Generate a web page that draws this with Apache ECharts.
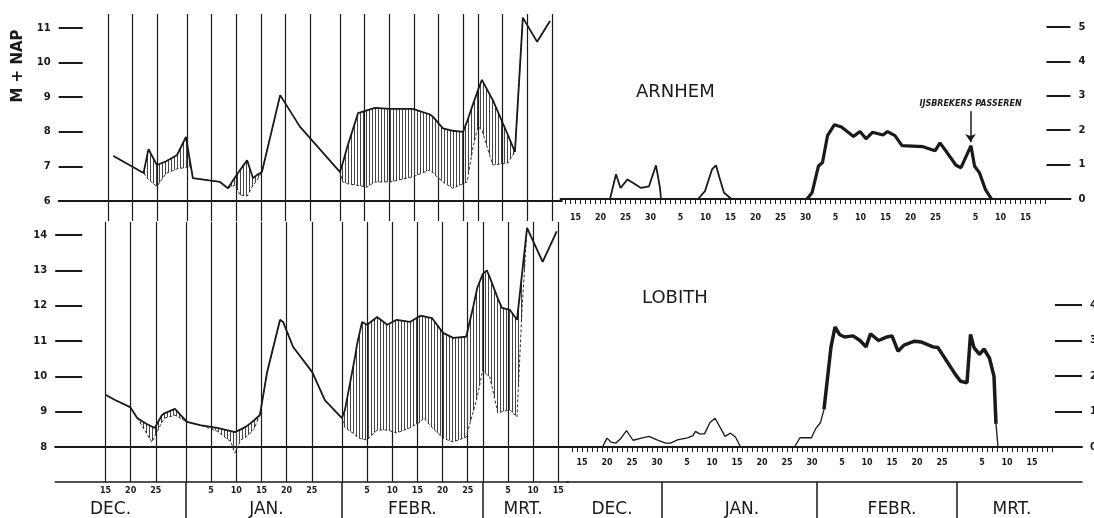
<!DOCTYPE html>
<html><head><meta charset="utf-8">
<script src="https://cdn.jsdelivr.net/npm/echarts@6/dist/echarts.min.js"></script>
<style>html,body{margin:0;padding:0;background:#fff}#c{width:1094px;height:518px}</style>
</head><body><div id="c"></div>
<script>
// ---------- time axis: day index t, 0 = 1 December ----------
const monthNames = ['DEC.', 'JAN.', 'FEBR.', 'MRT.'];
const monthLengths = [31, 31, 28, 31];
const monthLastDays = [30, 61, 89];
const leftLabelDays = [14, 19, 24, 35, 40, 45, 50, 55, 66, 71, 76, 81, 86, 94, 99, 104];
const rightLabelDays = [14, 19, 24, 29, 35, 40, 45, 50, 55, 60, 66, 71, 76, 81, 86, 94, 99, 104];
const leftMonthLabelDays = [15, 46, 75, 97];
const rightMonthLabelDays = [20, 46, 76, 100];

// ---------- Arnhem water level (m + NAP) ----------
const arnT = [15.1,21.2,22.2,23.9,25.8,28.0,29.8,30.8,31.2,36.7,38.3,39.7,40.8,42.2,43.4,44.2,45.2,48.9,52.9,61.0,61.6,62.5,64.7,66.5,68.1,71.2,75.8,79.3,79.9,81.9,83.9,86.0,86.8,88.0,89.0,89.8,92.0,95.1,95.5,96.5,98.1,101.0,103.6];
const arnUpper = [7.30,6.81,7.50,7.04,7.15,7.33,7.85,7.00,6.66,6.55,6.37,6.67,6.90,7.18,6.66,6.75,6.84,9.06,8.15,6.84,7.10,7.56,8.54,8.62,8.69,8.66,8.66,8.50,8.43,8.10,8.03,8.00,8.30,8.80,9.20,9.50,8.92,7.90,7.76,7.42,11.30,10.60,11.20];
const arnLower = [7.30,6.81,6.62,6.42,6.80,6.93,6.97,7.00,6.66,6.55,6.37,6.46,6.17,6.14,6.45,6.60,6.84,9.06,8.15,6.84,6.55,6.50,6.45,6.40,6.55,6.55,6.70,6.90,6.80,6.55,6.37,6.50,6.55,7.56,8.15,8.05,7.04,7.10,7.20,7.42,11.30,10.60,11.20];

// ---------- Lobith water level (m + NAP) ----------
const lobT = [14.1,15.9,18.9,20.3,22.1,23.2,23.8,25.2,25.8,27.8,30.2,32.8,36.2,38.9,39.7,40.9,42.1,43.5,44.7,46.1,48.7,49.3,51.3,55.1,57.6,61.0,61.6,63.6,64.0,65.0,66.0,68.0,70.0,71.9,74.5,76.5,77.3,78.9,81.1,83.1,85.7,87.1,87.9,89.0,89.8,90.4,92.0,92.8,94.4,95.8,96.8,97.8,100.9,103.7];
const lobUpper = [9.47,9.33,9.13,8.82,8.66,8.58,8.54,8.90,8.96,9.08,8.71,8.62,8.54,8.45,8.42,8.50,8.59,8.75,8.91,10.10,11.60,11.54,10.83,10.12,9.33,8.82,9.05,10.55,10.90,11.54,11.46,11.68,11.46,11.60,11.54,11.71,11.70,11.65,11.23,11.09,11.12,11.97,12.50,12.90,13.00,12.80,12.20,11.94,11.88,11.60,12.90,14.20,13.24,14.10];
const lobLower = [9.47,9.33,9.13,8.82,8.40,8.14,8.30,8.70,8.82,8.90,8.71,8.62,8.45,8.15,7.83,8.20,8.30,8.50,8.91,10.10,11.60,11.54,10.83,10.12,9.33,8.82,8.55,8.35,8.28,8.22,8.20,8.48,8.48,8.40,8.54,8.70,8.82,8.55,8.25,8.14,8.28,9.00,9.42,10.18,10.05,9.98,8.96,9.00,9.05,8.85,11.88,14.20,13.24,14.10];

// ---------- Arnhem right panel ----------
const arnR1T = [20.9,22.1,23.0,24.4,25.7,27.1,28.7,30.1,30.9,31.1];
const arnR1V = [0,0.72,0.32,0.57,0.45,0.32,0.37,0.98,0.32,0];
const arnR2T = [38.5,39.9,41.3,42.1,42.8,43.7,45.2];
const arnR2V = [0,0.23,0.86,0.98,0.62,0.18,0];
const arnR3T = [60.3,61.3,62.6,63.4,64.4,65.8,67.2,69.6,70.9,72.1,73.4,75.5,76.4,77.9,79.3,83.5,85.9,86.9,88.3,90.1,91.1,93.1,93.8,94.8,96.0,97.2];
const arnR3V = [0,0.18,0.96,1.06,1.84,2.16,2.09,1.82,1.96,1.75,1.94,1.86,1.96,1.84,1.55,1.52,1.40,1.63,1.35,0.98,0.91,1.55,0.96,0.76,0.27,0];
const arnArrowDay = 93;

// ---------- Lobith right panel ----------
const lobR1T = [18.1,19.0,19.8,20.8,21.7,22.9,24.2,25.9,27.4,29.0,30.7,31.7,33.1,35.1,36.2,36.7,37.5,38.5,39.6,40.6,41.6,42.6,43.7,44.7,45.7];
const lobR1V = [0,0.25,0.14,0.11,0.23,0.46,0.19,0.25,0.30,0.20,0.11,0.11,0.20,0.26,0.32,0.44,0.37,0.37,0.69,0.81,0.56,0.30,0.39,0.28,0];
const lobR2T = [56.5,57.6,59.9,60.7,61.7,62.4];
const lobR2V = [0,0.26,0.26,0.51,0.69,1.06];
const lobR3T = [62.4,63.8,64.6,65.5,66.5,68.2,69.6,70.8,71.7,73.3,75.0,76.0,77.2,78.4,80.5,81.8,84.2,85.2,88.6,89.7,91.0,91.7,92.4,93.5,94.4,95.5,96.4,96.8];
const lobR3V = [1.06,2.82,3.38,3.17,3.10,3.13,3.00,2.82,3.19,3.00,3.10,3.13,2.70,2.87,2.98,2.96,2.82,2.80,2.06,1.85,1.81,3.17,2.80,2.61,2.76,2.50,1.99,0.65];
const lobR4T = [96.8,97.2];
const lobR4V = [0.65,0];

// ---------- helpers ----------
const INK = '#1a1a1a';
const FONT = 'DejaVu Sans';
function dayLabel(t){ let d=t; for (const len of monthLengths){ if (d<len) return String(d+1); d-=len; } return String(d+1); }
function monthOf(t){ let d=t; for (let m=0;m<monthLengths.length;m++){ if (d<monthLengths[m]) return m; d-=monthLengths[m]; } return monthLengths.length-1; }
function range(a,b){ const r=[]; for (let i=a;i<=b;i++) r.push(String(i)); return r; }
const inSet = arr => (idx, val) => arr.indexOf(+val) >= 0;
const pts = (ts, vs) => ts.map((t,i)=>[t, vs[i]]);
const leftVert = leftLabelDays.concat(monthLastDays);

const lineW = {color: INK, width: 1.2};
function catAxis(grid, a, b, extra){
  return Object.assign({type:'category', gridIndex:grid, data:range(a,b), boundaryGap:false,
    axisLine:{show:false, onZero:false}, axisTick:{show:false}, axisLabel:{show:false}, splitLine:{show:false}}, extra);
}
function hiddenX(grid, a, b){ return {type:'value', gridIndex:grid, min:a, max:b, show:false, splitLine:{show:false}}; }
function yAx(grid, min, max, pos, len){
  return {type:'value', gridIndex:grid, min:min, max:max, interval:1, position:pos,
    axisLine:{show:false, onZero:false}, splitLine:{show:false},
    axisTick:{show:true, inside:true, length:len, lineStyle:{color:INK, width:2}},
    axisLabel:{margin:8, fontSize:10, fontWeight:'bold', color:INK, fontFamily:FONT}};
}

const xAxis = [
  // grid 0: Arnhem water level
  catAxis(0, 4, 106, {position:'bottom', axisLine:{show:true,onZero:false,lineStyle:{color:INK,width:2}},
    axisTick:{show:true, interval:inSet(leftVert), length:20, lineStyle:lineW},
    splitLine:{show:true, interval:inSet(leftVert), lineStyle:lineW}}),
  hiddenX(0, 4, 106),
  catAxis(0, 4, 106, {position:'top', axisTick:{show:true, interval:inSet(leftVert), length:14, lineStyle:lineW}}),
  // grid 1: Lobith water level
  catAxis(1, 4, 106, {position:'bottom', axisLine:{show:true,onZero:false,lineStyle:{color:INK,width:2}},
    axisTick:{show:true, interval:inSet(leftVert), length:35, lineStyle:lineW},
    axisLabel:{show:true, interval:inSet(leftLabelDays), formatter:v=>dayLabel(+v), margin:40, fontSize:8, fontWeight:'bold', color:INK, fontFamily:FONT},
    splitLine:{show:true, interval:inSet(leftVert), lineStyle:lineW}}),
  hiddenX(1, 4, 106),
  catAxis(1, 4, 106, {position:'top', axisTick:{show:true, interval:inSet(leftVert), length:13, lineStyle:lineW}}),
  catAxis(1, 4, 106, {position:'bottom', offset:35, axisLine:{show:true,onZero:false,lineStyle:{color:INK,width:1.5}},
    axisTick:{show:true, interval:inSet(monthLastDays), length:36, lineStyle:{color:INK,width:1.5}},
    axisLabel:{show:true, interval:inSet(leftMonthLabelDays), formatter:v=>monthNames[monthOf(+v)], margin:19, fontSize:17, color:INK, fontFamily:FONT}}),
  // grid 2: Arnhem right
  catAxis(2, 11, 113, {position:'bottom', axisLine:{show:true,onZero:false,lineStyle:{color:INK,width:2}},
    axisTick:{show:true, interval:(i,v)=>+v>=12 && +v<=108, length:5, lineStyle:{color:INK,width:1}},
    axisLabel:{show:true, interval:inSet(rightLabelDays), formatter:v=>dayLabel(+v), margin:15, fontSize:8, fontWeight:'bold', color:INK, fontFamily:FONT}}),
  hiddenX(2, 11, 113),
  // grid 3: Lobith right
  catAxis(3, 11, 114, {position:'bottom', axisLine:{show:true,onZero:false,lineStyle:{color:INK,width:2}},
    axisTick:{show:true, interval:(i,v)=>+v>=12 && +v<=108, length:5, lineStyle:{color:INK,width:1}},
    axisLabel:{show:true, interval:inSet(rightLabelDays), formatter:v=>dayLabel(+v), margin:12, fontSize:8, fontWeight:'bold', color:INK, fontFamily:FONT}}),
  hiddenX(3, 11, 114),
  catAxis(3, 11, 114, {position:'bottom', offset:35, axisLine:{show:true,onZero:false,lineStyle:{color:INK,width:1.5}},
    axisTick:{show:true, interval:inSet(monthLastDays), length:36, lineStyle:{color:INK,width:1.5}},
    axisLabel:{show:true, interval:inSet(rightMonthLabelDays), formatter:v=>monthNames[monthOf(+v)], margin:19, fontSize:17, color:INK, fontFamily:FONT}})
];

const yAxis = [
  yAx(0, 6, 11, 'left', 24),
  yAx(1, 8, 14, 'left', 27),
  yAx(2, 0, 5, 'right', 24),
  yAx(3, 0, 4, 'right', 27)
];

// hatch between the two level lines: vertical strokes every 3 px, clipped to the band
function hatchSeries(xi, yi, ts, up, lo){
  return {type:'custom', xAxisIndex:xi, yAxisIndex:yi, clip:false, silent:true, z:2,
    data: ts.map((t,i)=>[t, up[i], lo[i]]),
    encode:{x:0, y:[1,2]},
    renderItem: function(params, api){
      if (params.dataIndex !== 0) return null;
      const U = ts.map((t,i)=>api.coord([t, up[i]]));
      const L = ts.map((t,i)=>api.coord([t, lo[i]]));
      const yAt = (P, x) => {
        for (let k=0;k<P.length-1;k++){
          if (x>=P[k][0] && x<=P[k+1][0]) { const w=P[k+1][0]-P[k][0]; const f=w? (x-P[k][0])/w : 0; return P[k][1]+f*(P[k+1][1]-P[k][1]); }
        }
        return null;
      };
      const children = [];
      for (let x=Math.ceil(U[0][0])+0.5; x<=U[U.length-1][0]; x+=3){
        const yu=yAt(U,x), yl=yAt(L,x);
        if (yu==null || yl==null || Math.abs(yl-yu)<2) continue;
        children.push({type:'line', shape:{x1:x, y1:yu, x2:x, y2:yl}, style:{stroke:'#444', lineWidth:1}});
      }
      return {type:'group', children:children};
    }};
}
function levelLines(xi, yi, ts, up, lo){
  return [
    hatchSeries(xi, yi, ts, up, lo),
    {type:'line', xAxisIndex:xi, yAxisIndex:yi, data:pts(ts, lo), symbol:'none', clip:false,
      lineStyle:{color:'#333', width:1, type:[3,2]}, z:3},
    {type:'line', xAxisIndex:xi, yAxisIndex:yi, data:pts(ts, up), symbol:'none', clip:false,
      lineStyle:{color:INK, width:1.8}, z:4}
  ];
}
function plain(xi, yi, ts, vs, w){
  return {type:'line', xAxisIndex:xi, yAxisIndex:yi, data:pts(ts, vs), symbol:'none', clip:false, lineStyle:{color:INK, width:w}, z:4};
}

const arnBig = plain(8, 2, arnR3T, arnR3V, 3.2);
arnBig.markLine = {silent:true, symbol:['none','arrow'], symbolSize:8, animation:false,
  lineStyle:{color:INK, width:1.5, type:'solid'},
  label:{show:true, position:'start', formatter:'IJSBREKERS PASSEREN', fontSize:8, fontWeight:'bold', fontStyle:'italic', color:INK, fontFamily:FONT, distance:3},
  data:[[{coord:[arnArrowDay, 2.55]}, {coord:[arnArrowDay, 1.66]}]]};

const series = [].concat(
  levelLines(1, 0, arnT, arnUpper, arnLower),
  levelLines(4, 1, lobT, lobUpper, lobLower),
  [plain(8, 2, arnR1T, arnR1V, 1.8), plain(8, 2, arnR2T, arnR2V, 1.8), arnBig,
   plain(10, 3, lobR1T, lobR1V, 1.3), plain(10, 3, lobR2T, lobR2V, 1.3), plain(10, 3, lobR3T, lobR3V, 3.5), plain(10, 3, lobR4T, lobR4V, 1.3)]
);

const chart = echarts.init(document.getElementById('c'), null, {renderer:'canvas'});
chart.setOption({
  animation:false,
  backgroundColor:'#fff',
  textStyle:{fontFamily:FONT},
  title:[
    {text:'ARNHEM', left:636, top:83, padding:0, textStyle:{fontSize:18, fontWeight:'normal', color:INK, fontFamily:FONT}},
    {text:'LOBITH', left:642, top:289, padding:0, textStyle:{fontSize:18, fontWeight:'normal', color:INK, fontFamily:FONT}}
  ],
  graphic:[{type:'text', x:18, y:66, rotation:Math.PI/2,
    style:{text:'M + NAP', fontSize:15, fontWeight:'bold', fontFamily:FONT, fill:INK, align:'center', verticalAlign:'middle'}}],
  grid:[
    {left:58.7, top:28, width:503.1, height:173, outerBoundsMode:'none'},
    {left:55.2, top:235, width:513.1, height:212, outerBoundsMode:'none'},
    {left:560.5, top:27, width:510, height:172, outerBoundsMode:'none'},
    {left:567, top:305, width:515, height:142, outerBoundsMode:'none'}
  ],
  xAxis:xAxis,
  yAxis:yAxis,
  series:series
});
</script></body></html>
